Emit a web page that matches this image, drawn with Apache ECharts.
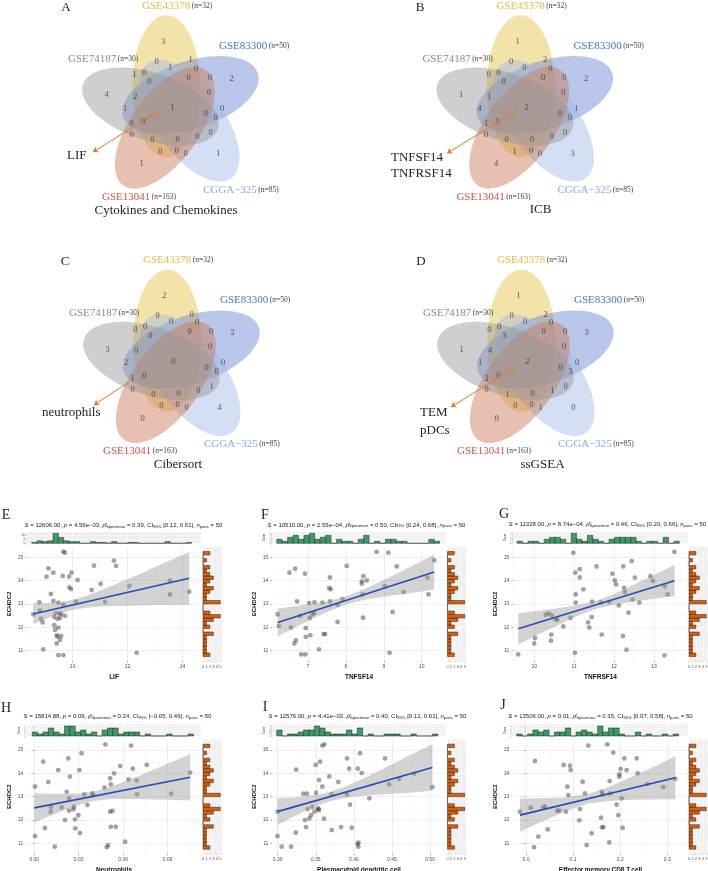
<!DOCTYPE html>
<html>
<head>
<meta charset="utf-8">
<script src="https://cdn.jsdelivr.net/npm/echarts@6.0.0/dist/echarts.min.js"></script>
<style>
  html, body { margin: 0; padding: 0; background: #fff; }
  #main { width: 708px; height: 871px; }
</style>
</head>
<body>
<div id="main"></div>
<script>
// ---------------- Venn data ----------------
var setNames = ['GSE43378', 'GSE83300', 'CGGA\u2212325', 'GSE13041', 'GSE74187'];
var setSizes = [32, 50, 85, 163, 30];
var vennTitles = ['Cytokines and Chemokines', 'ICB', 'Cibersort', 'ssGSEA'];
var vennLetters = ['A', 'B', 'C', 'D'];
var vennGenes = [['LIF'], ['TNFSF14', 'TNFRSF14'], ['neutrophils'], ['TEM', 'pDCs']];
// counts per region (same region order in every panel)
var countsA = [3, 2, 4, 1, 1, 1, 0, 1, 1, 0, 1, 0, 0, 0, 0, 0, 2, 1, 0, 0, 0, 0, 0, 0, 0, 0, 0, 0, 0, 0, 0];
var countsB = [1, 2, 1, 4, 3, 2, 0, 0, 2, 0, 0, 0, 0, 0, 0, 0, 1, 4, 1, 0, 0, 1, 1, 0, 0, 0, 0, 0, 1, 0, 0];
var countsC = [2, 2, 3, 0, 4, 0, 0, 0, 0, 0, 0, 0, 0, 0, 0, 0, 0, 2, 0, 0, 0, 1, 0, 0, 0, 0, 0, 1, 0, 0, 0];
var countsD = [1, 3, 1, 0, 0, 2, 0, 0, 2, 0, 0, 0, 3, 0, 0, 0, 4, 1, 0, 0, 3, 2, 0, 0, 1, 0, 1, 0, 0, 0, 1];

// ---------------- scatter data (x, ECHDC2) ----------------
var ptsE = [[8.57,12.56],[8.79,13.07],[8.81,12.71],[8.85,12.36],[8.91,12.21],[8.93,11.06],[9.05,14.17],[9.12,14.53],[9.21,13.43],[9.30,14.34],[9.30,13.13],[9.33,12.44],[9.33,12.09],[9.39,12.6],[9.42,11.66],[9.45,12.36],[9.48,13.06],[9.48,11.99],[9.52,12.59],[9.54,12.4],[9.58,12.57],[9.42,11.31],[9.45,11.6],[9.58,11.63],[9.54,11.46],[9.66,15.24],[9.72,15.2],[9.64,14.2],[9.66,12.97],[9.72,12.49],[9.87,14.17],[9.88,13.71],[9.94,13.64],[9.96,14.34],[10.12,13.1],[10.18,14.03],[10.69,13.6],[10.78,14.64],[11.02,13.86],[11.18,13.09],[11.5,14.86],[11.58,14.63],[12.06,13.77],[12.33,10.91],[13.54,14.0],[13.54,13.41],[14.24,13.53],[9.48,10.81],[9.66,10.81],[9.36,11.89]];
var ptsF = [[6.2,12.56],[6.23,12.06],[6.51,14.34],[6.66,14.51],[6.71,13.11],[6.55,11.99],[6.68,11.44],[6.64,11.31],[6.79,12.49],[6.92,14.3],[6.94,11.97],[7.03,13.04],[7.05,12.4],[7.12,12.56],[7.16,12.61],[7.06,11.66],[6.94,11.59],[7.17,13.07],[7.29,11.06],[7.38,13.06],[7.41,11.71],[7.45,11.71],[7.56,13.69],[7.6,13.63],[7.58,14.14],[7.58,13.11],[7.78,12.96],[7.78,12.23],[7.91,13.21],[8.02,14.63],[8.42,13.87],[8.42,13.97],[8.44,13.41],[8.45,12.41],[8.46,14.19],[8.55,14.01],[8.81,15.23],[9.03,13.76],[9.12,15.2],[9.15,10.91],[9.23,12.66],[9.34,14.61],[9.52,13.51],[10.15,14.13],[10.18,13.41],[10.33,14.87],[6.82,10.84],[6.93,10.84]];
var ptsG = [[9.6,10.84],[10.02,11.54],[10.0,11.31],[10.29,12.54],[10.36,12.6],[10.44,12.51],[10.54,12.34],[10.58,12.33],[10.43,11.69],[10.42,11.43],[10.73,12.04],[10.91,12.4],[10.98,15.19],[11.03,14.34],[11.04,13.41],[11.04,13.06],[11.14,14.49],[11.14,14.14],[11.23,13.63],[11.02,10.91],[11.35,12.21],[11.38,11.99],[11.44,12.44],[11.45,13.1],[11.56,14.61],[11.67,13.07],[11.69,11.69],[11.88,13.09],[11.96,14.3],[12.02,14.01],[12.05,13.84],[12.12,12.94],[12.23,14.61],[12.25,13.69],[12.27,13.51],[12.22,11.63],[12.31,11.04],[12.36,12.63],[12.44,14.84],[12.46,13.19],[12.52,14.13],[12.63,13.06],[12.91,14.19],[12.97,13.99],[13.27,13.76],[13.34,13.41],[13.51,15.23],[13.26,10.8]];
var ptsH = [[0.0005,13.43],[0.0005,11.31],[0.0061,14.5],[0.0072,11.66],[0.0095,13.63],[0.0113,12.57],[0.0111,12.36],[0.0138,10.86],[0.0162,14.14],[0.0185,12.54],[0.0208,12.0],[0.0219,13.21],[0.023,14.64],[0.0235,12.93],[0.0241,13.86],[0.0235,12.4],[0.0264,12.46],[0.0268,12.57],[0.0275,12.03],[0.0305,14.14],[0.0298,12.21],[0.032,14.86],[0.0338,13.1],[0.0359,12.64],[0.0393,13.14],[0.0395,13.07],[0.048,15.24],[0.0474,13.39],[0.049,10.84],[0.0499,10.93],[0.0512,13.79],[0.0512,12.36],[0.0517,13.53],[0.0528,12.39],[0.0539,14.0],[0.0517,11.71],[0.055,11.71],[0.058,14.31],[0.0614,11.07],[0.0636,13.74],[0.0654,15.19],[0.0665,14.2],[0.0693,13.69],[0.0695,13.1],[0.076,14.36],[0.0925,13.13],[0.1053,14.03],[0.0277,11.64],[0.0309,11.44]];
var ptsI = [[0.2996,11.31],[0.30,12.36],[0.3053,10.86],[0.3175,10.86],[0.3236,11.46],[0.3241,14.16],[0.3337,13.13],[0.3359,12.0],[0.3372,11.7],[0.3385,13.13],[0.3394,12.47],[0.3416,12.07],[0.3438,12.21],[0.3455,12.56],[0.3481,12.36],[0.3499,14.36],[0.3503,13.17],[0.3525,12.46],[0.3534,12.5],[0.3543,12.43],[0.3543,13.71],[0.3556,14.5],[0.3586,13.43],[0.3586,15.19],[0.3613,15.24],[0.3608,12.06],[0.3678,13.87],[0.3709,13.1],[0.3709,11.57],[0.3796,13.63],[0.3832,11.7],[0.391,14.64],[0.391,13.1],[0.3937,14.2],[0.395,12.66],[0.3972,11.67],[0.405,10.97],[0.4059,11.03],[0.4059,10.86],[0.4081,14.86],[0.405,14.2],[0.4103,14.01],[0.4204,12.93],[0.4409,14.64],[0.4462,13.53],[0.4593,13.76],[0.4794,13.99],[0.5031,13.41]];
var ptsJ = [[-0.0127,12.36],[0.0099,12.53],[0.017,10.84],[0.0191,14.53],[0.0262,11.29],[0.0368,12.54],[0.0403,12.57],[0.046,11.6],[0.0665,12.39],[0.0708,12.4],[0.08,14.36],[0.0849,12.36],[0.0878,13.43],[0.0899,13.07],[0.0934,14.33],[0.0948,14.14],[0.1132,11.99],[0.1146,12.47],[0.1203,13.64],[0.1253,13.14],[0.1288,10.93],[0.1323,15.19],[0.1394,11.43],[0.1592,12.1],[0.1607,13.21],[0.1614,11.69],[0.1642,11.7],[0.1628,13.1],[0.1727,15.24],[0.1769,11.04],[0.1776,13.67],[0.1783,13.14],[0.1854,14.89],[0.1925,12.66],[0.196,12.21],[0.1982,13.86],[0.1982,13.96],[0.201,14.19],[0.2031,12.93],[0.2052,11.67],[0.2088,14.64],[0.2137,14.14],[0.235,14.64],[0.2371,14.0],[0.2576,13.54],[0.2916,13.41],[0.3171,13.76]];

// fitted line end points and 95% band [x, lower, upper]
var lineE = [[8.57,12.57],[14.24,14.1]];
var lineF = [[6.2,12.21],[10.33,14.37]];
var lineG = [[9.6,11.94],[13.51,14.0]];
var lineH = [[0.0,12.52],[0.1053,13.83]];
var lineI = [[0.2996,12.36],[0.5031,14.25]];
var lineJ = [[-0.0127,12.21],[0.3171,13.81]];
var bandE = [[8.57,12.14,13.03],[8.9,12.3,13.02],[9.3,12.49,13.06],[9.6,12.61,13.09],[10.0,12.74,13.18],[10.5,12.84,13.35],[11.0,12.89,13.57],[11.5,12.91,13.81],[12.0,12.93,14.07],[12.5,12.94,14.32],[13.0,12.96,14.59],[13.5,12.96,14.84],[14.24,12.97,15.23]];
var bandF = [[6.2,11.62,12.8],[6.6,11.95,12.89],[7.0,12.27,12.98],[7.5,12.66,13.12],[8.0,12.98,13.32],[8.5,13.18,13.64],[9.0,13.31,14.03],[9.5,13.43,14.43],[10.0,13.54,14.84],[10.33,13.62,15.12]];
var bandG = [[9.6,11.27,12.61],[10.0,11.61,12.69],[10.5,12.02,12.8],[11.0,12.43,12.93],[11.55,12.8,13.14],[12.0,12.97,13.43],[12.5,13.11,13.83],[13.0,13.22,14.24],[13.51,13.33,14.67]];
var bandH = [[0.0,11.89,13.15],[0.01,12.15,13.13],[0.02,12.41,13.13],[0.03,12.64,13.14],[0.04,12.82,13.22],[0.05,12.89,13.39],[0.06,12.9,13.62],[0.07,12.9,13.88],[0.08,12.88,14.14],[0.09,12.87,14.41],[0.1053,12.84,14.82]];
var bandI = [[0.2996,11.78,12.94],[0.32,12.13,12.97],[0.34,12.44,13.04],[0.355,12.65,13.11],[0.37,12.82,13.22],[0.39,12.95,13.45],[0.41,13.03,13.75],[0.43,13.08,14.06],[0.45,13.13,14.39],[0.475,13.18,14.8],[0.5031,13.25,15.25]];
var bandJ = [[-0.0127,11.5,12.92],[0.02,11.81,12.93],[0.05,12.08,12.94],[0.08,12.35,12.97],[0.13,12.7,13.1],[0.17,12.81,13.37],[0.2,12.85,13.63],[0.23,12.87,13.91],[0.26,12.88,14.18],[0.29,12.89,14.47],[0.3171,12.89,14.73]];

// marginal histograms: counts per bin; bins given as [first bin start, bin width]
var histE = [1,3,2,3,12,7,3,2,2,0,0,2,1,1,0,2,0,0,1,1,0,0,0,0,0,2,0,0,0,1];
var histF = [2,1,3,4,2,4,5,2,3,4,0,2,1,1,0,2,4,0,1,0,2,2,1,1,0,0,0,0,2,1];
var histG = [1,0,1,1,0,2,3,3,2,0,5,2,1,4,2,1,0,2,3,3,3,3,1,0,1,1,0,3,0,1];
var histH = [2,1,2,4,2,1,5,5,2,3,1,2,0,3,4,4,1,2,2,2,0,1,0,0,0,1,0,0,0,1];
var histI = [3,0,1,1,2,3,3,5,4,2,1,1,1,3,1,4,0,1,0,0,1,1,1,0,0,1,0,0,0,1];
var histJ = [1,0,1,3,2,3,0,2,2,4,0,2,3,2,1,5,2,4,4,1,0,0,2,0,1,0,0,1,0,1];
var histBins = [[8.51,0.194],[6.176,0.1432],[9.574,0.1353],[-0.00135,0.00363],[0.2987,0.00705],[-0.0198,0.01146]];
// ECHDC2 histogram, bottom bin first
var histY = [2,1,1,1,1,1,3,0,2,1,3,5,2,0,0,5,1,1,2,3,1,2,3,2,1,2,0,1,0,2];
var histYBin = [10.75, 0.15];

var xNames = ['LIF', 'TNFSF14', 'TNFRSF14', 'Neutrophils', 'Plasmacytoid.dendritic.cell', 'Effector.memory.CD8.T.cell'];
var panelLetters = ['E', 'F', 'G', 'H', 'I', 'J'];
var statS = ['12606.00', '10510.00', '11328.00', '15814.88', '12576.00', '13506.00'];
var statP = ['4.56e\u221203', '2.55e\u221204', '8.74e\u221204', '0.09', '4.41e\u221203', '0.01'];
var statRho = ['0.39', '0.50', '0.46', '0.24', '0.40', '0.35'];
var statCI = ['[0.12, 0.61]', '[0.24, 0.68]', '[0.20, 0.66]', '[\u22120.05, 0.49]', '[0.12, 0.61]', '[0.07, 0.58]'];
var xTicks = [[10, 12, 14], [6, 7, 8, 9, 10], [10, 11, 12, 13], [0, 0.03, 0.06, 0.09], [0.30, 0.35, 0.40, 0.45, 0.50], [0, 0.1, 0.2, 0.3]];
var xMinor = [[9, 11, 13], [6.5, 7.5, 8.5, 9.5, 10.5], [9.5, 10.5, 11.5, 12.5, 13.5], [0.015, 0.045, 0.075, 0.105], [0.325, 0.375, 0.425, 0.475], [0.05, 0.15, 0.25]];
var xDecimals = [0, 0, 0, 2, 2, 1];
var yTicks = [11, 12, 13, 14, 15];
var yMinor = [11.5, 12.5, 13.5, 14.5];

var allPts = [ptsE, ptsF, ptsG, ptsH, ptsI, ptsJ];
var allLines = [lineE, lineF, lineG, lineH, lineI, lineJ];
var allBands = [bandE, bandF, bandG, bandH, bandI, bandJ];
var allHist = [histE, histF, histG, histH, histI, histJ];

// ---------------- layout ----------------
var SERIF = 'Liberation Serif';
var SANS = 'Liberation Sans';
var vennCenters = [[172.3, 107.3], [526.7, 107.3], [173.3, 361.7], [527.3, 361.7]];
// region label offsets from the Venn centre (px)
var regionPos = [[-9,-65.7],[59.3,-29],[-65.7,-12.3],[-30.7,56.7],[46,46],[0,0],[-15.7,-45.7],[-2.3,-39.7],[18.3,-47.3],[23.7,-39],[-38,-32.3],[-28.3,-34.7],[-23,-25.7],[16.3,-29.7],[37.7,-30],[36.7,-15],[-37.3,-10.7],[-47.3,1],[49.7,1.3],[33.3,6],[43.3,10],[-40.7,16.7],[-29,14.3],[-40.7,27.7],[-20,32.7],[5.3,32],[25,29.3],[38.3,25.3],[-12,44.3],[4.3,43.3],[13.3,46]];
var ellipseOff = [-6, -21], ellipseA = 71, ellipseB = 34;
var setFills = ['rgba(231,197,75,0.48)', 'rgba(105,133,209,0.46)', 'rgba(165,185,231,0.48)', 'rgba(201,119,85,0.46)', 'rgba(150,150,150,0.46)'];
var setColors = ['#E3BC45', '#4B72C5', '#8FA9E2', '#C9534B', '#8C8C8C'];
var setLabelOff = [[-30.3,-101.3],[46.7,-61.3],[30.7,82.7],[-70.3,89.7],[-104.3,-48.3]];
var titlePos = [[166, 211], [540.5, 209.5], [178, 465], [542.5, 465]];
var letterPos = [[66, 8], [420, 8], [65, 262], [421, 262]];
var arrows = [[[-13.3,3.7],[-79.3,44.7]], [[-9.7,3],[-79.7,46]], [[-44.3,20.3],[-79.3,43.3]], [[-8.3,3.3],[-76.3,45.3]]];
var genePos = [[[67,156]], [[391,158],[391,174]], [[42,413]], [[420,413],[420,431]]];
var allCounts = [countsA, countsB, countsC, countsD];

var cols = [{l: 27, r: 201, rh: 203, xr: [8.34, 14.67]}, {l: 272, r: 446, rh: 447.5, xr: [6.05, 10.64]}, {l: 513, r: 688, rh: 689, xr: [9.47, 13.85]}];
var colsX2 = [[-0.0049, 0.1126], [0.2925, 0.521], [-0.0276, 0.344]];
var rows = [{top: 546.8, hist: 532}, {top: 739.5, hist: 724.7}];
var mainH = 114.4, histH = 11.3, rhW = 19;
var yRange = [10.55, 15.45];
var subPos = [[123.5, 525.8], [366.5, 525.2], [607.5, 524.5], [117.5, 716.7], [367.5, 716.7], [600.5, 716.7]];
var letterPos2 = [[6, 515], [265, 515], [504, 514], [6, 708], [265, 707], [503, 705]];

var grids = [], xAxes = [], yAxes = [], series = [], graphics = [];

function noAxis(extra) {
  return Object.assign({
    type: 'value', axisLine: {show: false}, axisTick: {show: false},
    axisLabel: {show: false}, splitLine: {show: false}
  }, extra);
}

// ---------------- Venn panels ----------------
vennCenters.forEach(function (c, i) {
  grids.push({left: c[0] - 130, top: c[1] - 130, width: 260, height: 260, containLabel: false, outerBoundsMode: 'none', show: false});
  xAxes.push(noAxis({gridIndex: i, min: -130, max: 130, show: false}));
  yAxes.push(noAxis({gridIndex: i, min: -130, max: 130, inverse: true, show: false}));
  series.push({
    type: 'custom', xAxisIndex: i, yAxisIndex: i, silent: true, clip: false, z: 1,
    data: setNames.map(function (n, k) { return [0, 0, k]; }),
    renderItem: function (params, api) {
      var k = api.value(2);
      var th = k * 72 * Math.PI / 180;
      var ox = ellipseOff[0] * Math.cos(th) - ellipseOff[1] * Math.sin(th);
      var oy = ellipseOff[0] * Math.sin(th) + ellipseOff[1] * Math.cos(th);
      var p = api.coord([ox, oy]);
      var s = api.size([ellipseB, ellipseA]);
      var rb = Math.abs(s[0]), ra = Math.abs(s[1]);
      return {type: 'circle', shape: {cx: 0, cy: 0, r: rb}, x: p[0], y: p[1], scaleY: ra / rb, rotation: -th,
        style: {fill: setFills[k]}};
    }
  });
  series.push({
    type: 'scatter', xAxisIndex: i, yAxisIndex: i, silent: true, z: 3, symbolSize: 1,
    itemStyle: {color: 'rgba(0,0,0,0)'},
    data: regionPos.map(function (p, j) { return [p[0], p[1], allCounts[i][j]]; }),
    label: {show: true, position: 'inside', formatter: function (p) { return String(p.value[2]); },
      fontFamily: SERIF, fontSize: 8.5, color: '#333'}
  });
  series.push({
    type: 'lines', coordinateSystem: 'cartesian2d', xAxisIndex: i, yAxisIndex: i, silent: true, z: 4,
    symbol: ['none', 'arrow'], symbolSize: 5,
    lineStyle: {color: '#E0772B', width: 1, opacity: 1},
    data: [{coords: arrows[i]}]
  });
  setNames.forEach(function (n, k) {
    graphics.push({type: 'text', z: 10, style: {
      x: c[0] + setLabelOff[k][0], y: c[1] + setLabelOff[k][1], verticalAlign: 'middle', align: 'left',
      text: '{a|' + n + '}{b|(n=' + setSizes[k] + ')}',
      rich: {a: {fontFamily: SERIF, fontSize: 11, fill: setColors[k], color: setColors[k]},
             b: {fontFamily: SERIF, fontSize: 7.5, fill: '#444', color: '#444', padding: [0, 0, 0, 1.5]}}
    }});
  });
  graphics.push({type: 'text', z: 10, style: {x: titlePos[i][0], y: titlePos[i][1], text: vennTitles[i],
    align: 'center', verticalAlign: 'middle', fontFamily: SERIF, fontSize: 13, fill: '#222'}});
  graphics.push({type: 'text', z: 10, style: {x: letterPos[i][0], y: letterPos[i][1], text: vennLetters[i],
    align: 'center', verticalAlign: 'middle', fontFamily: SERIF, fontSize: 13, fill: '#222'}});
  vennGenes[i].forEach(function (g, j) {
    graphics.push({type: 'text', z: 10, style: {x: genePos[i][j][0], y: genePos[i][j][1], text: g,
      align: 'left', verticalAlign: 'middle', fontFamily: SERIF, fontSize: 13, fill: '#222'}});
  });
});

// ---------------- scatter panels ----------------
var tickLabel = {fontFamily: SANS, fontSize: 5, color: '#4D4D4D'};
for (var p = 0; p < 6; p++) {
  (function (p) {
    var col = cols[p % 3], row = rows[Math.floor(p / 3)];
    var xr = p < 3 ? col.xr : colsX2[p % 3];
    var g0 = grids.length, a0 = xAxes.length;
    // main, top histogram, right histogram
    grids.push({left: col.l, top: row.top, width: col.r - col.l, height: mainH, containLabel: false, outerBoundsMode: 'none', show: false});
    grids.push({left: col.l, top: row.hist, width: col.r - col.l, height: histH, containLabel: false, outerBoundsMode: 'none',
      show: true, backgroundColor: '#EFEFEF', borderWidth: 0});
    grids.push({left: col.rh, top: row.top, width: rhW, height: mainH, containLabel: false, outerBoundsMode: 'none',
      show: true, backgroundColor: '#EFEFEF', borderWidth: 0});

    var dec = xDecimals[p];
    // x axes
    xAxes.push({type: 'value', gridIndex: g0, min: xr[0], max: xr[1], position: 'bottom',
      axisLine: {show: false},
      axisTick: {show: true, length: 1.5, customValues: xTicks[p], lineStyle: {color: '#4D4D4D', width: 0.5}},
      axisLabel: Object.assign({show: true, margin: 3.3, customValues: xTicks[p],
        formatter: function (v) { return Number(v).toFixed(dec); }}, tickLabel),
      splitLine: {show: true, lineStyle: {color: '#E3E3E3', width: 0.6}},
      name: xNames[p], nameLocation: 'middle', nameGap: 12.8,
      nameTextStyle: {fontFamily: SANS, fontSize: 6.5, fontWeight: 'bold', color: '#111'}});
    xAxes.push(noAxis({gridIndex: g0, min: xr[0], max: xr[1], position: 'top',
      axisTick: {show: false, customValues: xMinor[p]}, axisLabel: {show: false, customValues: xMinor[p]},
      splitLine: {show: true, lineStyle: {color: '#F1F1F1', width: 0.4}}}));
    xAxes.push(noAxis({gridIndex: g0 + 1, min: xr[0], max: xr[1],
      axisTick: {show: false, customValues: xTicks[p]},
      splitLine: {show: true, lineStyle: {color: '#FFFFFF', width: 0.6}}}));
    xAxes.push({type: 'value', gridIndex: g0 + 2, min: 0, max: 5.5, axisLine: {show: false},
      axisTick: {show: true, length: 1, customValues: [0, 1, 2, 3, 4, 5], lineStyle: {color: '#4D4D4D', width: 0.4}},
      axisLabel: {show: true, margin: 3.3, customValues: [0, 1, 2, 3, 4, 5], fontFamily: SANS, fontSize: 4, color: '#4D4D4D'},
      splitLine: {show: true, lineStyle: {color: '#FFFFFF', width: 0.5}}});
    // y axes
    yAxes.push({type: 'value', gridIndex: g0, min: yRange[0], max: yRange[1],
      axisLine: {show: false},
      axisTick: {show: true, length: 1.5, customValues: yTicks, lineStyle: {color: '#4D4D4D', width: 0.5}},
      axisLabel: Object.assign({show: true, margin: 3.6, customValues: yTicks}, tickLabel),
      splitLine: {show: true, lineStyle: {color: '#E3E3E3', width: 0.6}},
      name: 'ECHDC2', nameLocation: 'middle', nameGap: 15, nameRotate: 90,
      nameTextStyle: {fontFamily: SANS, fontSize: 6, fontWeight: 'bold', color: '#111'}});
    yAxes.push(noAxis({gridIndex: g0, min: yRange[0], max: yRange[1], position: 'right',
      axisTick: {show: false, customValues: yMinor}, axisLabel: {show: false, customValues: yMinor},
      splitLine: {show: true, lineStyle: {color: '#F1F1F1', width: 0.4}}}));
    var hMax = p === 0 ? 13.6 : 5.65;
    var hTicks = p === 0 ? [0, 5, 10] : [0, 1, 2, 3, 4, 5];
    yAxes.push({type: 'value', gridIndex: g0 + 1, min: 0, max: hMax, axisLine: {show: false},
      axisTick: {show: true, length: 1, customValues: hTicks, lineStyle: {color: '#4D4D4D', width: 0.4}},
      axisLabel: {show: true, margin: 1.5, customValues: hTicks, fontFamily: SANS, fontSize: p === 0 ? 3.6 : 2.2, color: '#4D4D4D'},
      splitLine: {show: true, lineStyle: {color: '#FFFFFF', width: 0.5}},
      name: p === 0 ? '' : 'Count', nameLocation: 'middle', nameGap: 5, nameRotate: 90,
      nameTextStyle: {fontFamily: SANS, fontSize: 2.6, color: '#333'}});
    yAxes.push(noAxis({gridIndex: g0 + 2, min: yRange[0], max: yRange[1],
      axisTick: {show: false, customValues: yTicks},
      splitLine: {show: true, lineStyle: {color: '#FFFFFF', width: 0.5}}}));

    var band = allBands[p];
    series.push({type: 'scatter', xAxisIndex: a0, yAxisIndex: a0, z: 2, silent: true,
      symbolSize: 4.8, itemStyle: {color: 'rgba(70,64,60,0.62)'}, data: allPts[p]});
    series.push({type: 'custom', xAxisIndex: a0, yAxisIndex: a0, z: 3, silent: true, data: band,
      renderItem: function (params, api) {
        if (params.dataIndex !== 0) return null;
        var up = band.map(function (r) { return api.coord([r[0], r[2]]); });
        var lo = band.slice().reverse().map(function (r) { return api.coord([r[0], r[1]]); });
        return {type: 'polygon', shape: {points: up.concat(lo)}, style: {fill: 'rgba(150,150,150,0.42)'}};
      }});
    series.push({type: 'line', xAxisIndex: a0, yAxisIndex: a0, z: 4, silent: true, showSymbol: false,
      lineStyle: {color: '#2B4BAF', width: 1.6}, data: allLines[p]});
    var bx = histBins[p];
    series.push({type: 'custom', xAxisIndex: a0 + 2, yAxisIndex: a0 + 2, z: 3, silent: true, clip: false,
      data: allHist[p].map(function (n, k) { return [bx[0] + k * bx[1], bx[0] + (k + 1) * bx[1], n]; }),
      renderItem: function (params, api) {
        var q0 = api.coord([api.value(0), api.value(2)]);
        var q1 = api.coord([api.value(1), 0]);
        return {type: 'rect', shape: {x: q0[0], y: q0[1], width: q1[0] - q0[0], height: q1[1] - q0[1]},
          style: {fill: '#3B9A68', stroke: '#1A1A1A', lineWidth: 0.45}};
      }});
    series.push({type: 'custom', xAxisIndex: a0 + 3, yAxisIndex: a0 + 3, z: 3, silent: true, clip: false,
      data: histY.map(function (n, k) { return [n, histYBin[0] + k * histYBin[1], histYBin[0] + (k + 1) * histYBin[1]]; }),
      renderItem: function (params, api) {
        var q0 = api.coord([0, api.value(2)]);
        var q1 = api.coord([api.value(0), api.value(1)]);
        return {type: 'rect', shape: {x: q0[0], y: q0[1], width: q1[0] - q0[0], height: q1[1] - q0[1]},
          style: {fill: '#D2600C', stroke: '#1A1A1A', lineWidth: 0.45}};
      }});

    graphics.push({type: 'text', z: 10, style: {x: subPos[p][0], y: subPos[p][1], align: 'center', verticalAlign: 'middle',
      fontFamily: SANS, fontSize: 6, fill: '#222',
      text: '{i|S} = ' + statS[p] + ', {i|p} = ' + statP[p] + ', {i|\u03C1\u0302}{s|Spearman} = ' + statRho[p] +
        ', CI{s|95%} ' + statCI[p] + ', {i|n}{s|pairs} = 50',
      rich: {i: {fontFamily: SANS, fontSize: 6, fontStyle: 'italic', fill: '#222', color: '#222'},
             s: {fontFamily: SANS, fontSize: 4.2, fill: '#222', color: '#222', verticalAlign: 'bottom', padding: [2, 0, 0, 0]}}}});
    graphics.push({type: 'text', z: 10, style: {x: letterPos2[p][0], y: letterPos2[p][1], text: panelLetters[p],
      align: 'center', verticalAlign: 'middle', fontFamily: SERIF, fontSize: 14, fill: '#222'}});
  })(p);
}

var chart = echarts.init(document.getElementById('main'), null, {renderer: 'canvas'});
chart.setOption({
  animation: false,
  backgroundColor: '#FFFFFF',
  textStyle: {fontFamily: SANS},
  grid: grids,
  xAxis: xAxes,
  yAxis: yAxes,
  series: series,
  graphic: {elements: graphics}
});
</script>
</body>
</html>
